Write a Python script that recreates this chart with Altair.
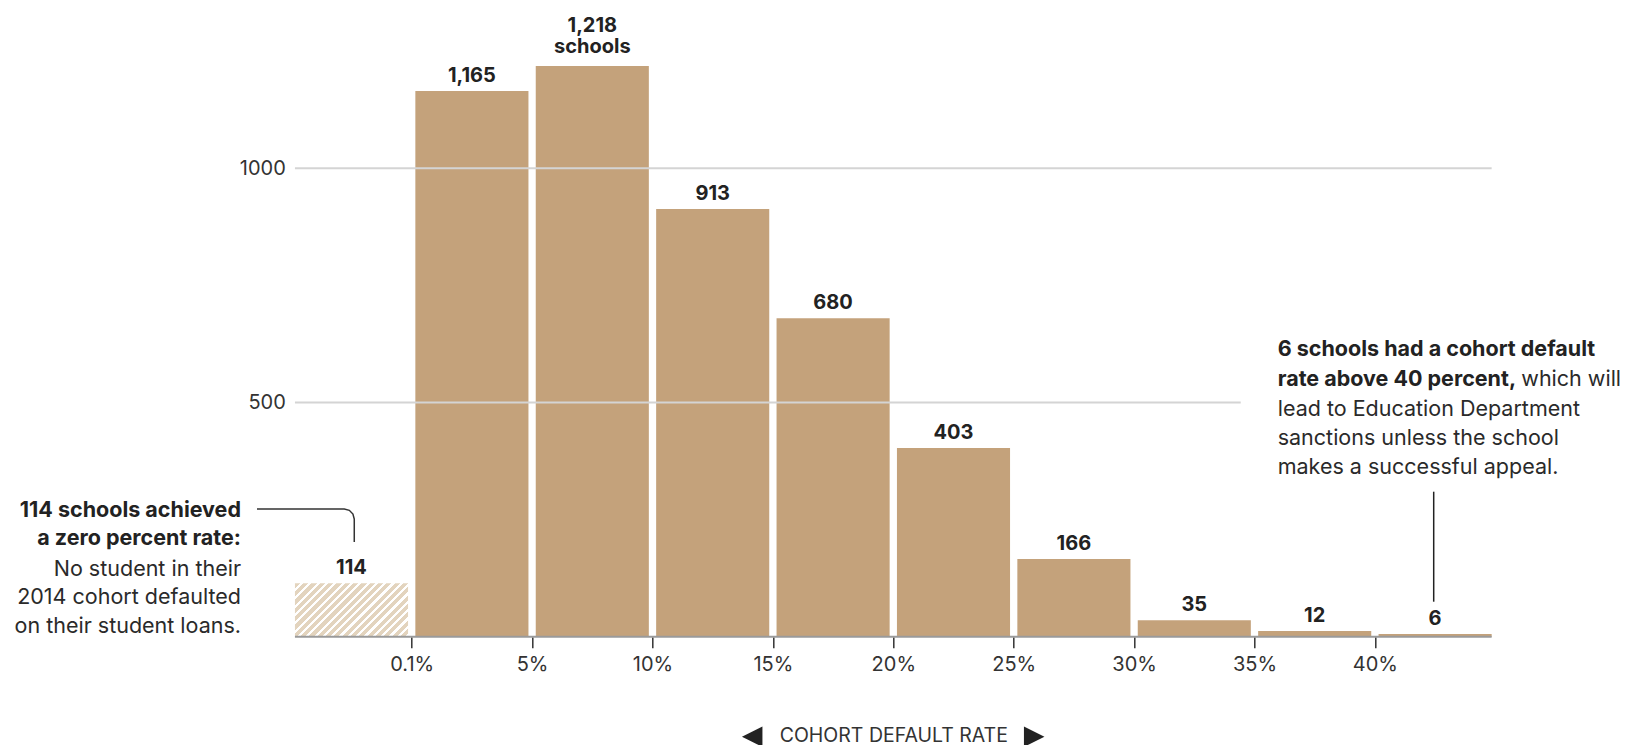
import altair as alt
import pandas as pd

# ---- data ----
bins = ["0%", "0.1–5%", "5–10%", "10–15%", "15–20%", "20–25%",
        "25–30%", "30–35%", "35–40%", "40%+"]
counts = [114, 1165, 1218, 913, 680, 403, 166, 35, 12, 6]
tick_labels = ["0.1%", "5%", "10%", "15%", "20%", "25%", "30%", "35%", "40%"]

df = pd.DataFrame({"bin": bins, "count": counts})
df["i"] = list(range(len(bins)))

# ---- styling / layout ----
FONT = "Inter"
FS = 20        # axis / bar-label size
FS_ANN = 21.5  # annotation size
W, H = 1204, 609
YMAX = 1300
TAN = "#c4a27b"
HATCH = "#e3d4be"
DARK = "#222222"
GREY_TXT = "#333333"
GAP = 3.65  # half gap between bars in px

# hatch gradient geometry (stripes at 45 degrees inside the first bar)
bar_w = W / 10 - 2 * GAP
bar_h = counts[0] * H / YMAX
r = bar_h / bar_w
k = (1 + r) / (1 + r * r)
N = 20
stops = []
for j in range(N):
    a = j / N
    b = (j + 0.62) / N
    c = (j + 1) / N
    stops += [{"offset": a, "color": HATCH}, {"offset": b, "color": HATCH},
              {"offset": b, "color": "#ffffff"}, {"offset": c, "color": "#ffffff"}]
hatch_fill = {"gradient": "linear", "x1": 0, "y1": 0, "x2": k, "y2": k * r,
              "stops": stops}

label_expr = "[" + ",".join(["''"] + [f"'{t}'" for t in tick_labels]) + "][datum.value]"
xscale = alt.Scale(domain=[0, 10], nice=False, zero=False)
yscale = alt.Scale(domain=[0, YMAX], nice=False)

base = alt.Chart(df).transform_calculate(
    x0="datum.i", x1="datum.i + 1", mid="datum.i + 0.5"
)

x_axis = alt.Axis(
    values=list(range(1, 10)), labelExpr=label_expr, domain=False, grid=False,
    ticks=True, tickColor=GREY_TXT, tickWidth=1.5, tickSize=11,
    labelFontSize=FS, labelColor=GREY_TXT, labelFont=FONT, labelPadding=23,
    labelBaseline="alphabetic", labelOverlap=False, labelFlush=False,
    title="COHORT DEFAULT RATE", titleFont=FONT,
    titleFontSize=19.5, titleFontWeight="normal", titleColor=GREY_TXT,
    titleY=105, titleBaseline="alphabetic",
)
y_axis = alt.Axis(
    values=[500, 1000], format="d", grid=False, domain=False, ticks=False,
    labelFontSize=FS, labelColor=GREY_TXT, labelFont=FONT, labelPadding=6,
    title=None,
)

bars = base.transform_filter("datum.i > 0").mark_bar(
    color=TAN, xOffset=GAP, x2Offset=-GAP
).encode(
    x=alt.X("x0:Q", scale=xscale, axis=x_axis),
    x2="x1:Q",
    y=alt.Y("count:Q", scale=yscale, axis=y_axis),
    y2=alt.datum(0),
)

hatched = base.transform_filter("datum.i == 0").mark_bar(
    color=hatch_fill, xOffset=GAP, x2Offset=-GAP
).encode(
    x=alt.X("x0:Q", scale=xscale),
    x2="x1:Q",
    y=alt.Y("count:Q", scale=yscale),
    y2=alt.datum(0),
)

grid = alt.Chart(pd.DataFrame({"gy": [1000, 500], "xs": [0, 0], "xe": [10, 7.916]})).mark_rule(
    color="#d4d4d4", strokeWidth=2, xOffset=GAP, x2Offset=-GAP
).encode(
    x=alt.X("xs:Q", scale=xscale), x2="xe:Q",
    y=alt.Y("gy:Q", scale=yscale),
)

baseline = alt.Chart(pd.DataFrame({"gy": [0], "xs": [0], "xe": [10]})).mark_rule(
    color="#9a9a9a", strokeWidth=2, xOffset=GAP, x2Offset=-GAP
).encode(
    x=alt.X("xs:Q", scale=xscale), x2="xe:Q",
    y=alt.Y("gy:Q", scale=yscale),
)

lab_common = dict(font=FONT, fontSize=FS, fontWeight="bold", color=DARK,
                  baseline="alphabetic", align="center")

labels = base.transform_joinaggregate(mx="max(count)").transform_filter(
    "datum.count < datum.mx"
).mark_text(dy=-9, **lab_common).encode(
    x=alt.X("mid:Q", scale=xscale),
    y=alt.Y("count:Q", scale=yscale),
    text=alt.Text("count:Q", format=",d"),
)
top_num = base.transform_joinaggregate(mx="max(count)").transform_filter(
    "datum.count == datum.mx"
).mark_text(dy=-34, **lab_common).encode(
    x=alt.X("mid:Q", scale=xscale),
    y=alt.Y("count:Q", scale=yscale),
    text=alt.Text("count:Q", format=",d"),
)
top_word = base.transform_joinaggregate(mx="max(count)").transform_filter(
    "datum.count == datum.mx"
).mark_text(dy=-13, **lab_common).encode(
    x=alt.X("mid:Q", scale=xscale),
    y=alt.Y("count:Q", scale=yscale),
    text=alt.value("schools"),
)

# ---- annotations ----
one = pd.DataFrame({"k": [0]})
ann_lines = [
    ("114 schools achieved", "bold", "right", -50.3, 488.9),
    ("a zero percent rate:", "bold", "right", -50.3, 517.3),
    ("No student in their", "normal", "right", -50.3, 548.3),
    ("2014 cohort defaulted", "normal", "right", -50.3, 576.3),
    ("on their student loans.", "normal", "right", -50.3, 605.0),
    ("6 schools had a cohort default", "bold", "left", 986.4, 328.3),
    ("rate above 40 percent,", "bold", "left", 986.4, 358.0),
    ("which will", "normal", "left", 1230.0, 358.0),
    ("lead to Education Department", "normal", "left", 986.4, 388.3),
    ("sanctions unless the school", "normal", "left", 986.4, 417.3),
    ("makes a successful appeal.", "normal", "left", 986.4, 446.3),
]
ann_layers = []
for txt, wt, al, px, py in ann_lines:
    ann_layers.append(
        alt.Chart(one).mark_text(
            font=FONT, fontSize=FS_ANN, fontWeight=wt,
            color=DARK if wt == "bold" else "#2a2a2a",
            align=al, baseline="alphabetic",
        ).encode(x=alt.value(px), y=alt.value(py), text=alt.value(txt))
    )

# arrows either side of the axis title
arrows = [
    alt.Chart(one).mark_point(
        shape="M-1,0L1,-1L1,1Z", filled=True, opacity=1, color=DARK, size=420
    ).encode(x=alt.value(460.9), y=alt.value(709.0)),
    alt.Chart(one).mark_point(
        shape="M1,0L-1,-1L-1,1Z", filled=True, opacity=1, color=DARK, size=420
    ).encode(x=alt.value(742.9), y=alt.value(709.0)),
]

# leader line for the zero-rate bar (in data units), with a rounded corner
leader = pd.DataFrame({
    "o": [0, 1, 2, 3, 4, 5],
    "lx": [-0.285, 0.44, 0.482, 0.512, 0.523, 0.523],
    "ly": [272.6, 272.6, 269.8, 261.9, 251.3, 202.2],
})
leader_left = alt.Chart(leader).mark_line(color="#333333", strokeWidth=1.5).encode(
    x=alt.X("lx:Q", scale=xscale),
    y=alt.Y("ly:Q", scale=yscale),
    order="o:Q",
)
leader_right = alt.Chart(one).mark_rule(color="#222222", strokeWidth=1.5).encode(
    x=alt.value(1142.4), y=alt.value(464.0), y2=alt.value(574.0)
)

chart = alt.layer(
    bars, grid, hatched, baseline, labels, top_num, top_word,
    leader_left, leader_right, *ann_layers, *arrows
).properties(
    width=W, height=H,
    padding={"left": 283.3, "top": 19.7, "right": 136.7, "bottom": 108.3},
    autosize=alt.AutoSizeParams(type="none"),
).configure(background="white").configure_view(stroke=None)

chart.save("out.html", embed_options={"renderer": "svg", "actions": False})
